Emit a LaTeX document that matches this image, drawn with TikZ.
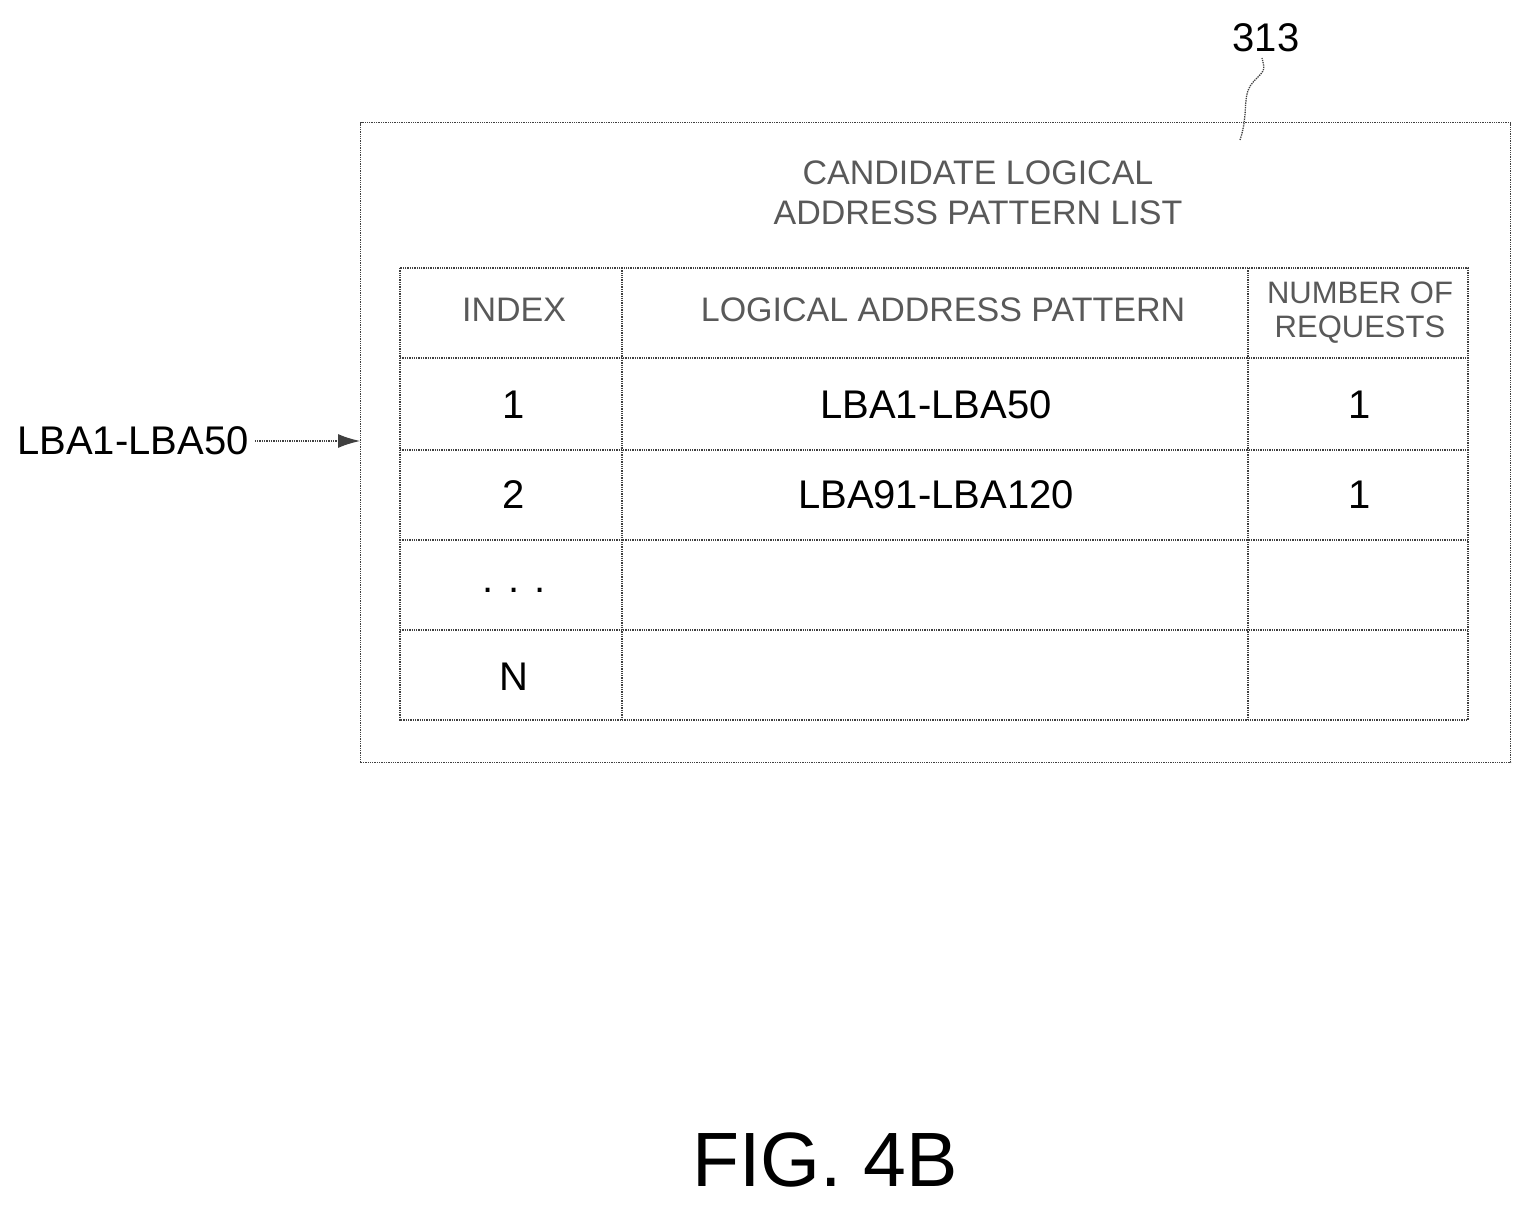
\documentclass[tikz,border=0pt]{standalone}
\usepackage{fontspec}
\setmainfont{Liberation Sans}
\usetikzlibrary{arrows.meta}
\begin{document}
\begin{tikzpicture}[x=1pt,y=-1pt,
  ln/.style={densely dotted,line width=1.3pt,draw=black!75},
  hd/.style={font=\fontsize{34}{40}\selectfont,text=black!65,align=center},
  cl/.style={font=\fontsize{40}{42}\selectfont}]
\useasboundingbox (0,0) rectangle (1532,1206);
\node[ln,draw,minimum width=1150,minimum height=640,anchor=north west,inner sep=0] (box) at (360,122) {};
\draw[ln] (400,268) rectangle (1468,720);
\foreach \y in {358,450,540,630} \draw[ln] (400,\y) -- (1468,\y);
\foreach \x in {622,1248} \draw[ln] (\x,268) -- (\x,720);
\node[hd] (title) at (978,193) {CANDIDATE LOGICAL\\ADDRESS PATTERN LIST};
\node[hd] (h1) at (514,310) {INDEX};
\node[hd] (h2) at (943,310) {LOGICAL ADDRESS PATTERN};
\node[hd,font=\fontsize{31}{34}\selectfont] (h3) at (1360,313) {NUMBER OF\\REQUESTS};
\node[cl] (a1) at (514,405) {1};
\node[cl] (b1) at (936,405) {LBA1-LBA50};
\node[cl] (c1) at (1360,405) {1};
\node[cl] (a2) at (514,495) {2};
\node[cl] (b2) at (936,495) {LBA91-LBA120};
\node[cl] (c2) at (1360,495) {1};
\node[cl] (a3) at (514,590) {. . .};
\node[cl] (a4) at (514,677) {N};
\node[cl,inner sep=6pt] (in) at (133,441) {LBA1-LBA50};
\draw[ln,-{Latex[length=22pt,width=14pt]}] (in.east) -- (box.west |- in.east);
\node[cl] (ref) at (1266,38) {313};
\coordinate (t) at (1240,140);
\draw[ln] (t) .. controls (1250,110) and (1240,95) .. (1255,80) .. controls (1265,70) .. (1262,58);
\node[font=\fontsize{77}{80}\selectfont] (fig) at (825,1160) {FIG. 4B};
\end{tikzpicture}
\end{document}
